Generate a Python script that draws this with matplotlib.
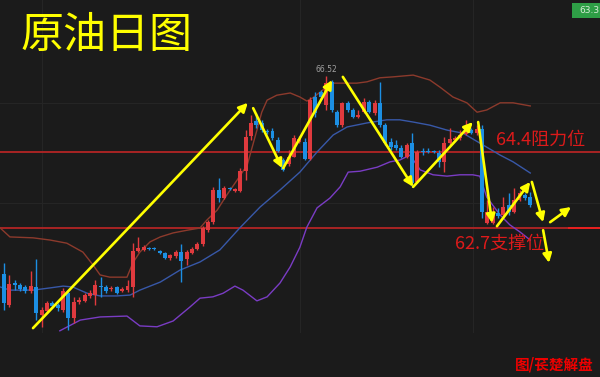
"""
原油日图 - crude oil daily candlestick chart with Bollinger bands
and hand-drawn style support / resistance annotations
"""

import matplotlib
matplotlib.use('Agg')
import matplotlib.pyplot as plt
import numpy as np

# ---------------------------------------------------------------------------
# Data
# ---------------------------------------------------------------------------
opens = [61.67, 60.98, 61.47, 61.43, 61.38, 61.29, 61.38, 60.75, 60.84, 61.02,
         60.98, 60.87, 61.24, 60.69, 61.04, 61.07, 61.18, 61.20, 61.40, 61.38,
         61.33, 61.38, 61.29, 61.31, 61.38, 62.19, 62.21, 62.25, 62.25, 62.19,
         62.14, 62.03, 62.07, 62.16, 62.01, 62.14, 62.23, 62.34, 62.65, 62.83,
         63.55, 63.37, 63.59, 63.53, 63.53, 63.97, 64.76, 65.09, 65.05, 64.87,
         64.87, 64.67, 64.22, 64.13, 64.29, 64.62, 64.62, 64.24, 65.63, 65.74,
         65.45, 65.97, 65.29, 65.00, 65.50, 65.34, 65.18, 65.29, 65.52, 65.27,
         65.50, 65.00, 64.62, 64.56, 64.49, 64.29, 64.60, 63.73, 64.42, 64.42,
         64.42, 64.38, 64.18, 64.60, 64.67, 64.71, 64.80, 64.89, 64.82, 64.91,
         62.81, 62.81, 63.04, 62.99, 63.21, 63.06, 63.33, 63.44, 63.39]
highs = [61.91, 61.65, 61.54, 61.47, 61.43, 61.74, 62.01, 60.93, 61.07, 61.07,
         61.02, 61.36, 61.31, 61.16, 61.16, 61.24, 61.31, 61.54, 61.60, 61.43,
         61.40, 61.40, 61.38, 61.54, 62.36, 62.50, 62.32, 62.27, 62.27, 62.21,
         62.16, 62.12, 62.21, 62.34, 62.21, 62.27, 62.39, 62.74, 62.88, 63.62,
         63.82, 63.64, 63.62, 63.59, 64.04, 64.89, 65.23, 65.27, 65.12, 64.91,
         64.94, 64.74, 64.27, 64.44, 64.78, 64.76, 64.71, 65.63, 65.74, 65.79,
         66.10, 66.01, 65.34, 65.52, 65.54, 65.38, 65.34, 65.61, 65.56, 65.56,
         65.97, 65.05, 64.71, 64.67, 64.56, 64.60, 64.82, 64.44, 64.49, 64.49,
         64.44, 64.44, 64.74, 64.94, 64.76, 64.89, 65.12, 64.94, 65.00, 65.00,
         63.33, 63.17, 63.15, 63.39, 63.48, 63.59, 63.55, 63.48, 63.50]
lows = [60.87, 60.93, 61.31, 61.29, 61.24, 61.24, 60.64, 60.49, 60.80, 60.91,
        60.84, 60.82, 60.42, 60.57, 61.00, 61.04, 61.13, 60.98, 61.16, 61.24,
        61.29, 61.22, 61.27, 61.27, 61.16, 62.16, 62.19, 62.21, 62.21, 62.12,
        62.01, 61.98, 62.03, 61.49, 61.87, 62.12, 62.21, 62.30, 62.61, 62.79,
        63.28, 63.35, 63.55, 63.50, 63.50, 63.77, 64.67, 64.94, 64.85, 64.80,
        64.67, 64.40, 63.97, 64.09, 64.29, 64.60, 64.22, 64.22, 65.18, 65.59,
        65.34, 65.29, 64.96, 64.96, 65.29, 65.16, 65.16, 65.27, 65.27, 65.23,
        64.96, 64.56, 64.44, 64.44, 64.27, 64.27, 63.62, 63.71, 64.33, 64.38,
        64.38, 64.06, 63.95, 64.56, 64.65, 64.67, 64.78, 64.80, 64.78, 62.92,
        62.79, 62.79, 62.92, 62.95, 62.99, 63.04, 63.30, 63.33, 63.17]
closes = [61.02, 61.45, 61.42, 61.33, 61.29, 61.40, 60.80, 60.87, 61.02, 60.95,
          60.91, 61.29, 60.69, 61.04, 61.09, 61.20, 61.24, 61.43, 61.38, 61.29,
          61.36, 61.24, 61.33, 61.40, 62.19, 62.25, 62.27, 62.23, 62.23, 62.14,
          62.03, 62.10, 62.16, 61.96, 62.16, 62.23, 62.34, 62.70, 62.83, 63.55,
          63.37, 63.59, 63.57, 63.57, 63.97, 64.74, 65.05, 65.00, 64.89, 64.85,
          64.71, 64.42, 64.00, 64.29, 64.71, 64.69, 64.24, 65.56, 65.27, 65.63,
          65.94, 65.34, 65.00, 65.50, 65.34, 65.18, 65.23, 65.52, 65.29, 65.50,
          65.00, 64.60, 64.51, 64.49, 64.29, 64.56, 63.71, 64.40, 64.40, 64.40,
          64.40, 64.18, 64.60, 64.69, 64.71, 64.78, 64.87, 64.82, 64.91, 63.06,
          63.06, 62.99, 62.97, 63.17, 63.06, 63.33, 63.48, 63.37, 63.21]

# Bollinger bands, sampled along the chart (candle index, price)
upper_idx = [-0.7, 1.1, 5.4, 8.6, 11.7, 14.7, 16.6, 17.9, 19.7, 22.9, 24.0, 25.3,
             27.2, 29.1, 31.5, 34.1, 36.5, 37.8, 39.7, 41.5, 43.4, 45.3, 47.1,
             48.0, 49.0, 50.8, 53.3, 55.1, 56.4, 57.5, 59.4, 61.3, 63.1, 65.7,
             67.6, 70.0, 72.4, 76.2, 79.3, 81.2, 83.6, 86.2, 88.1, 89.9, 92.4,
             94.8, 98.0]
upper_val = [62.70, 62.50, 62.48, 62.43, 62.36, 62.16, 61.87, 61.65, 61.60, 61.60,
             61.92, 62.16, 62.39, 62.50, 62.59, 62.65, 62.70, 62.88, 63.10, 63.44,
             63.77, 64.11, 64.89, 65.29, 65.56, 65.67, 65.72, 65.63, 65.54, 65.61,
             65.79, 65.94, 65.94, 65.94, 65.97, 66.06, 66.08, 66.12, 66.01, 65.85,
             65.63, 65.50, 65.29, 65.34, 65.50, 65.50, 65.43]
mid_idx = [-0.7, 1.1, 5.4, 8.6, 11.0, 12.8, 15.5, 17.9, 21.0, 23.5, 25.3, 29.1,
           32.8, 36.5, 40.2, 43.9, 47.7, 51.4, 55.1, 58.3, 61.3, 63.9, 67.6, 71.3,
           73.7, 76.2, 79.3, 82.5, 85.5, 88.6, 92.4, 94.8, 98.0]
mid_val = [61.38, 61.31, 61.31, 61.36, 61.40, 61.38, 61.24, 61.18, 61.18, 61.20,
           61.31, 61.49, 61.76, 61.94, 62.21, 62.70, 63.17, 63.55, 63.95, 64.40,
           64.78, 64.96, 65.05, 65.12, 65.12, 65.07, 65.00, 64.89, 64.82, 64.60,
           64.33, 64.18, 63.93]
lower_idx = [10.4, 14.2, 17.9, 22.9, 25.3, 28.5, 31.5, 34.6, 36.5, 38.9, 40.8,
             43.0, 44.5, 47.1, 49.0, 51.4, 53.3, 55.1, 56.4, 58.3, 60.7, 62.6,
             64.1, 66.3, 69.5, 71.9, 73.7, 75.6, 77.5, 79.9, 82.5, 84.9, 87.3,
             88.6, 89.9, 92.4, 94.2, 96.1, 98.0]
lower_val = [60.40, 60.64, 60.71, 60.73, 60.51, 60.49, 60.62, 60.93, 61.13, 61.16,
             61.24, 61.40, 61.31, 61.07, 61.16, 61.47, 61.83, 62.27, 62.72, 63.15,
             63.37, 63.62, 63.95, 63.97, 64.06, 64.18, 64.22, 64.33, 64.00, 63.89,
             63.86, 63.89, 63.89, 63.86, 63.39, 62.99, 62.77, 62.61, 62.43]

resistance = 64.4
support = 62.7

# Yellow trend arrows: (start idx, start price, end idx, end price)
arrows = [
    (5.4, 60.46, 45.4, 65.50),
    (46.4, 65.38, 51.8, 64.04),
    (52.0, 64.04, 61.1, 66.01),
    (63.1, 66.08, 76.2, 63.62),
    (76.2, 63.62, 87.3, 65.07),
    (88.3, 65.07, 90.9, 62.81),
    (91.8, 62.74, 98.0, 63.73),
    (98.3, 63.73, 100.4, 62.83),
    (101.7, 62.83, 105.6, 63.17),
    (100.4, 62.65, 101.5, 61.92),
]

# ---------------------------------------------------------------------------
# Styling
# ---------------------------------------------------------------------------
BG = '#1b1b1b'
UP = '#e03a3e'
DOWN = '#1c8fe3'
CJK = ['Noto Sans CJK SC', 'DejaVu Sans']

W, H = 600, 377
fig = plt.figure(figsize=(W / 100, H / 100), dpi=100)
fig.patch.set_facecolor(BG)

# chart panel: full width, top 333 px of the picture
ax = fig.add_axes([0, 44 / H, 1, 333 / H])
ax.set_facecolor(BG)
ax.set_xlim(-0.745, 110.99)
ax.set_ylim(60.351, 67.80)
ax.axis('off')

# faint grid
for gx in [7.1, 55.1, 87.3]:
    ax.axvline(gx, color='#252525', lw=0.8, zorder=0)
for gy in [65.50, 63.26]:
    ax.axhline(gy, color='#252525', lw=0.8, zorder=0)

# support / resistance lines
ax.axhline(resistance, color='#a82424', lw=1.4, zorder=1)
ax.axhline(support, color='#a82424', lw=1.4, zorder=1)
ax.plot([105.3, 111], [support, support], color='#e8201f', lw=1.4, zorder=1)

# Bollinger bands
ax.plot(upper_idx, upper_val, color='#8c3a2c', lw=1.0, zorder=2)
ax.plot(mid_idx, mid_val, color='#3858a8', lw=1.0, zorder=2)
ax.plot(lower_idx, lower_val, color='#7a3cc4', lw=1.0, zorder=2)

# candles
o = np.array(opens)
c = np.array(closes)
hi = np.array(highs)
lo = np.array(lows)
x = np.arange(len(o))
colors = np.where(c >= o, UP, DOWN)
body_low = np.minimum(o, c)
body_h = np.maximum(np.abs(c - o), 0.03)
ax.vlines(x, lo, hi, colors=colors, lw=1.0, zorder=3)
ax.bar(x, body_h, bottom=body_low, width=0.74, color=colors, linewidth=0, zorder=4)

# arrows
for x0, y0, x1, y1 in arrows:
    ax.annotate('', xy=(x1, y1), xytext=(x0, y0),
                arrowprops=dict(arrowstyle='-|>', color='#ffff00', lw=1.9,
                                mutation_scale=13, shrinkA=0, shrinkB=0),
                zorder=6)

# high price label
imax = int(np.argmax(hi))
ax.text(imax, hi[imax] + 0.05, '66.52', fontsize=5.5, color='#a0a0a0',
        ha='center', va='bottom', zorder=5)

# level labels
ax.text(91.6, resistance + 0.27, '64.4阻力位', fontsize=13, color='#dd1a1a',
        family=CJK, ha='left', va='center', zorder=5)
ax.text(84.0, support - 0.36, '62.7支撑位', fontsize=13, color='#dd1a1a',
        family=CJK, ha='left', va='center', zorder=5)

# title
fig.text(20 / W, 1 - 36 / H, '原油日图', fontsize=31, color='#ffff00',
         family=CJK, ha='left', va='center')

# watermark
fig.text(594 / W, 1 - 365 / H, '图/苌楚解盘', fontsize=10.5, color='#ee0000',
         family=CJK, fontweight='bold', ha='right', va='center')

# current price tag at top right
tag = plt.Rectangle((572 / W, 1 - 18 / H), 40 / W, 15 / H, transform=fig.transFigure,
                    facecolor='#2e9e46', edgecolor='none')
fig.patches.append(tag)
fig.text(579 / W, 1 - 10.5 / H, '63.3', fontsize=6.5, color='#d8ecd8',
         ha='left', va='center')

fig.savefig('out.png', dpi=100, facecolor=BG)
